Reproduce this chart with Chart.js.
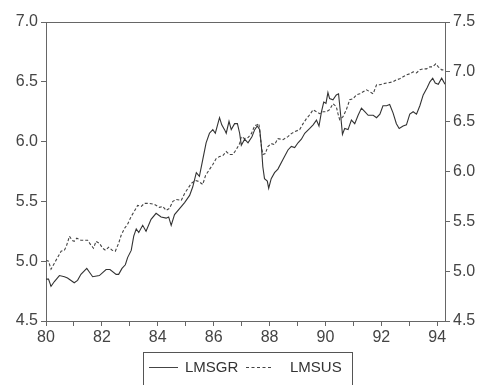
<!DOCTYPE html>
<html>
<head>
<meta charset="utf-8">
<script src="https://cdn.jsdelivr.net/npm/chart.js@4"></script>
<style>
  body { margin: 0; background: #fff; overflow: hidden; font-family: 'Liberation Sans', Arial, sans-serif; }
  #wrap { position: relative; width: 480px; height: 385px; }
  #legend { position: absolute; left: 143px; top: 352px; width: 208px; height: 50px; border: 1px solid #555; color: #333; font-size: 15px; }
  #legend .ln { position: absolute; top: 14px; height: 0; border-top: 1px solid #444; }
  #legend .txt { position: absolute; top: 5px; }
</style>
</head>
<body>
<div id="wrap">
  <canvas id="chart" width="480" height="385"></canvas>
  <div id="legend">
    <span class="ln" style="left:5px;width:29px"></span>
    <span class="txt" style="left:41px">LMSGR</span>
    <span class="ln" style="left:102px;width:25px;border-top-style:dashed"></span>
    <span class="txt" style="left:146px">LMSUS</span>
  </div>
</div>
<script>
// LMSGR, left axis
const grYears = [80.00,80.09,80.18,80.30,80.48,80.66,80.77,81.01,81.13,81.25,81.46,81.55,81.67,81.91,82.15,82.29,82.51,82.60,82.72,82.84,82.92,83.05,83.14,83.23,83.32,83.46,83.58,83.76,83.94,84.12,84.30,84.39,84.48,84.60,84.78,84.96,85.14,85.25,85.38,85.49,85.61,85.73,85.85,85.97,86.06,86.21,86.29,86.39,86.45,86.55,86.63,86.75,86.85,86.93,86.99,87.11,87.23,87.37,87.47,87.56,87.65,87.71,87.76,87.82,87.92,87.97,88.06,88.18,88.30,88.48,88.66,88.78,88.90,89.02,89.14,89.26,89.44,89.56,89.68,89.77,89.86,89.94,90.02,90.09,90.15,90.27,90.39,90.47,90.53,90.61,90.69,90.81,90.93,91.05,91.17,91.29,91.41,91.53,91.71,91.83,91.95,92.06,92.19,92.30,92.42,92.54,92.64,92.78,92.90,93.02,93.14,93.26,93.38,93.50,93.64,93.74,93.84,93.93,94.04,94.16,94.28];
const grValues = [4.85,4.85,4.79,4.83,4.88,4.87,4.86,4.82,4.84,4.89,4.94,4.91,4.87,4.88,4.93,4.93,4.89,4.89,4.94,4.97,5.03,5.09,5.21,5.27,5.24,5.30,5.25,5.35,5.40,5.37,5.36,5.37,5.30,5.39,5.44,5.49,5.55,5.62,5.74,5.71,5.85,5.99,6.07,6.10,6.07,6.20,6.14,6.10,6.07,6.17,6.10,6.15,6.15,6.07,5.97,6.02,5.99,6.04,6.10,6.13,6.10,5.96,5.79,5.69,5.67,5.61,5.69,5.74,5.77,5.85,5.93,5.96,5.95,5.99,6.02,6.07,6.11,6.14,6.18,6.13,6.25,6.33,6.32,6.41,6.36,6.35,6.39,6.40,6.26,6.06,6.11,6.10,6.18,6.15,6.22,6.28,6.25,6.22,6.22,6.20,6.23,6.30,6.30,6.31,6.24,6.15,6.11,6.13,6.14,6.23,6.25,6.23,6.30,6.39,6.45,6.50,6.53,6.49,6.48,6.53,6.48];

// LMSUS, right axis
const usYears = [80.00,80.09,80.18,80.30,80.42,80.54,80.66,80.74,80.84,80.93,81.01,81.10,81.25,81.37,81.49,81.61,81.70,81.79,81.91,82.03,82.13,82.24,82.37,82.48,82.60,82.69,82.81,82.92,83.05,83.16,83.28,83.41,83.52,83.70,83.88,84.06,84.18,84.30,84.42,84.54,84.66,84.84,84.96,85.08,85.20,85.35,85.47,85.61,85.71,85.85,85.97,86.09,86.21,86.33,86.45,86.57,86.69,86.81,86.93,86.99,87.11,87.23,87.35,87.47,87.56,87.62,87.71,87.76,87.85,87.94,88.06,88.18,88.30,88.48,88.66,88.78,88.90,89.08,89.20,89.32,89.44,89.56,89.68,89.80,89.92,90.04,90.15,90.27,90.39,90.45,90.51,90.63,90.75,90.87,90.99,91.11,91.23,91.35,91.47,91.59,91.71,91.83,91.95,92.06,92.24,92.42,92.54,92.66,92.78,92.90,93.02,93.14,93.26,93.38,93.50,93.62,93.74,93.84,93.95,94.04,94.16,94.28];
const usValues = [5.11,5.10,5.02,5.08,5.14,5.20,5.21,5.26,5.35,5.31,5.30,5.33,5.31,5.31,5.31,5.26,5.23,5.30,5.28,5.23,5.21,5.24,5.21,5.20,5.28,5.36,5.43,5.47,5.55,5.60,5.66,5.65,5.68,5.68,5.67,5.64,5.65,5.61,5.63,5.70,5.72,5.71,5.78,5.83,5.88,5.91,5.90,5.87,5.96,6.02,6.07,6.13,6.15,6.16,6.20,6.17,6.17,6.22,6.28,6.35,6.33,6.34,6.38,6.46,6.47,6.48,6.25,6.17,6.18,6.25,6.28,6.27,6.33,6.32,6.35,6.38,6.40,6.42,6.48,6.53,6.57,6.62,6.60,6.58,6.60,6.60,6.62,6.68,6.65,6.58,6.52,6.55,6.62,6.72,6.73,6.77,6.78,6.80,6.82,6.80,6.78,6.87,6.87,6.88,6.89,6.90,6.92,6.93,6.95,6.97,6.98,7.00,6.99,7.02,7.03,7.03,7.05,7.05,7.08,7.05,7.02,7.02];

const xTicks = [80,81,82,83,84,85,86,87,88,89,90,91,92,93,94];
const leftTicks = [4.5,5.0,5.5,6.0,6.5,7.0];
const rightTicks = [4.5,5.0,5.5,6.0,6.5,7.0,7.5];

const font = { family: "'Liberation Sans', Arial, sans-serif", size: 16 };
const axisColor = '#666';

// top edge of the frame (the other three edges are the axis borders)
const topEdge = {
  id: 'topEdge',
  afterDraw(chart) {
    const a = chart.chartArea, ctx = chart.ctx;
    ctx.save();
    ctx.strokeStyle = axisColor;
    ctx.lineWidth = 1;
    ctx.beginPath();
    ctx.moveTo(a.left, Math.round(a.top) + 0.5);
    ctx.lineTo(a.right, Math.round(a.top) + 0.5);
    ctx.stroke();
    ctx.restore();
  }
};

new Chart(document.getElementById('chart'), {
  type: 'line',
  data: {
    datasets: [
      {
        label: 'LMSGR',
        data: grYears.map((x, i) => ({ x: x, y: grValues[i] })),
        yAxisID: 'yL',
        borderColor: '#333',
        borderWidth: 1.1,
        pointRadius: 0,
        tension: 0
      },
      {
        label: 'LMSUS',
        data: usYears.map((x, i) => ({ x: x, y: usValues[i] })),
        yAxisID: 'yR',
        borderColor: '#444',
        borderWidth: 1.1,
        borderDash: [3, 2],
        pointRadius: 0,
        tension: 0
      }
    ]
  },
  options: {
    responsive: false,
    animation: false,
    layout: { padding: { top: 22, bottom: 38, left: 0, right: 0 } },
    plugins: { legend: { display: false }, tooltip: { enabled: false } },
    scales: {
      x: {
        type: 'linear',
        min: 80,
        max: grYears[grYears.length - 1],
        afterBuildTicks: s => { s.ticks = xTicks.map(v => ({ value: v })); },
        afterFit: s => { s.height = 26; },
        grid: { drawOnChartArea: false, tickLength: 5, color: axisColor },
        border: { color: axisColor },
        ticks: {
          color: '#444', font: font, padding: 2, maxRotation: 0, autoSkip: false,
          callback: v => (v % 2 === 0 ? String(v) : '')
        }
      },
      yL: {
        position: 'left',
        min: 4.5, max: 7.0,
        afterBuildTicks: s => { s.ticks = leftTicks.map(v => ({ value: v })); },
        afterFit: s => { s.width = 46; },
        grid: { drawOnChartArea: false, tickLength: 5, color: axisColor },
        border: { color: axisColor },
        ticks: { color: '#444', font: font, padding: 3, callback: v => v.toFixed(1) }
      },
      yR: {
        position: 'right',
        min: 4.5, max: 7.5,
        afterBuildTicks: s => { s.ticks = rightTicks.map(v => ({ value: v })); },
        afterFit: s => { s.width = 35; },
        grid: { drawOnChartArea: false, tickLength: 5, color: axisColor },
        border: { color: axisColor },
        ticks: { color: '#444', font: font, padding: 3, callback: v => v.toFixed(1) }
      }
    }
  },
  plugins: [topEdge]
});
</script>
</body>
</html>
